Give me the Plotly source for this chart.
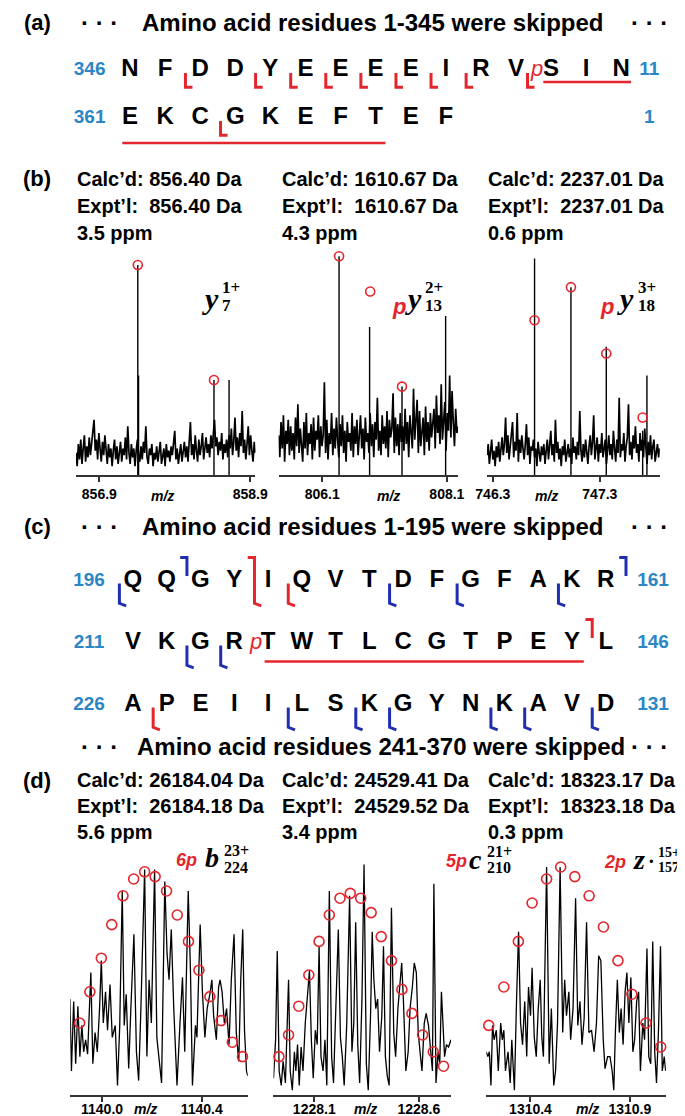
import numpy as np
import plotly.graph_objects as go

W, H = 685, 1116
SANS = "Liberation Sans, Arial, sans-serif"
SERIF = "Liberation Serif, Times New Roman, serif"
RED = "#e3262d"
BLUE_NUM = "#2b86c5"
BLUE_MARK = "#1f2fb0"

# ------------------------------------------------------------------ data
# (a) sequence
a_rows = ["NFDDYEEEEIRVSIN", "EKCGKEFTEF"]
a_left_nums = ["346", "361"]
a_right_nums = ["11", "1"]
a_cleave_low = [[0, 2], [0, 4], [0, 5], [0, 6], [0, 7], [0, 8], [0, 9], [0, 10], [1, 3]]
a_cleave_phospho = [[0, 12]]
a_underline = [[0, 12, 14], [1, 0, 7]]

# (c) sequence
c_rows = ["QQGYIQVTDFGFAKR", "VKGRTWTLCGTPEYL", "APEIILSKGYNKAVD"]
c_left_nums = ["196", "211", "226"]
c_right_nums = ["161", "146", "131"]
c_blue_low = [[0, 0], [0, 8], [0, 10], [0, 13], [1, 2], [1, 3],
              [2, 5], [2, 7], [2, 8], [2, 11], [2, 12], [2, 14]]
c_blue_up = [[0, 2], [0, 15]]
c_red_low = [[0, 5], [2, 1]]
c_red_up = [[1, 14]]
c_red_both = [[0, 4]]
c_phospho = [[1, 4]]
c_underline = [[1, 4, 13]]

# (b) spectra
b_calc = ["856.40", "1610.67", "2237.01"]
b_expt = ["856.40", "1610.67", "2237.01"]
b_ppm = ["3.5", "4.3", "0.6"]

b1_range = [856.59, 858.97]
b1_ticks = [856.9, 858.9]
b1_noise = [10, 4, 14, 7, 16, 5, 12, 18, 6, 13, 8, 17, 9, 15, 20, 25, 11, 16, 7, 19,
            12, 6, 15, 9, 18, 10, 5, 14, 8, 12, 4, 11, 16, 7, 13, 5, 10, 15, 6, 12,
            9, 17, 7, 22, 10, 5, 14, 8, 12, 4, 11, 16, 9, 6, 13, 7, 15, 10, 22, 8,
            5, 12, 9, 14, 4, 10, 7, 13, 6, 11, 15, 5, 9, 12, 4, 14, 8, 11, 6, 13,
            9, 16, 20, 7, 12, 5, 10, 14, 6, 11, 15, 8, 13, 6, 17, 24, 9, 14, 7, 18,
            11, 6, 16, 9, 13, 19, 7, 12, 17, 10, 14, 8, 18, 12, 20, 25, 13, 17, 9, 15,
            11, 19, 7, 14, 10, 16, 8, 18, 12, 21, 9, 15, 26, 11, 17, 8, 19, 13, 29, 10,
            16, 7, 14, 22, 9, 18, 11, 6, 15, 10]
b1_peak_mz = [857.41, 857.42, 858.42, 858.62]
b1_peak_int = [95, 45, 43, 43]
b1_circ_mz = [857.41, 858.42]
b1_circ_int = [95, 43]

b2_range = [805.40, 808.28]
b2_ticks = [806.1, 808.1]
b2_noise = [18, 8, 24, 12, 27, 6, 20, 14, 25, 9, 22, 11, 19, 7, 26, 13, 32, 10, 21, 15,
            6, 24, 12, 28, 9, 19, 14, 23, 7, 26, 11, 20, 16, 27, 8, 22, 13, 18, 42, 10,
            25, 7, 19, 14, 28, 9, 21, 12, 26, 16, 8, 23, 13, 27, 10, 20, 6, 24, 15, 19,
            11, 28, 8, 22, 14, 25, 9, 18, 27, 12, 21, 7, 26, 15, 19, 10, 28, 13, 23, 8,
            24, 16, 35, 11, 20, 9, 27, 14, 22, 12, 29, 8, 25, 17, 21, 37, 10, 26, 13, 23,
            9, 28, 15, 22, 11, 30, 14, 24, 8, 27, 18, 12, 39, 16, 25, 34, 10, 29, 13, 21,
            26, 9, 31, 15, 24, 11, 28, 17, 22, 30, 12, 36, 19, 27, 14, 41, 16, 25, 33, 11,
            28, 20, 45, 17, 38, 24, 13, 30, 19, 22]
b2_peak_mz = [806.37, 806.86, 807.38, 808.08]
b2_peak_int = [99, 67, 40, 72]
b2_circ_mz = [806.37, 806.87, 807.38]
b2_circ_int = [99, 83, 40]

b3_range = [746.246, 747.86]
b3_ticks = [746.3, 747.3]
b3_noise = [9, 14, 5, 12, 16, 7, 11, 4, 13, 8, 15, 6, 12, 17, 9, 14, 26, 10, 18, 7,
            13, 19, 24, 8, 15, 11, 28, 6, 16, 10, 18, 12, 7, 14, 23, 9, 17, 5, 13, 11,
            16, 8, 12, 4, 15, 10, 6, 13, 9, 14, 5, 11, 16, 7, 12, 20, 9, 14, 6, 25,
            10, 15, 7, 12, 4, 13, 9, 16, 6, 11, 14, 8, 12, 5, 17, 10, 13, 7, 15, 9,
            29, 11, 6, 14, 8, 16, 10, 5, 13, 18, 9, 15, 27, 7, 12, 17, 6, 14, 10, 19,
            8, 13, 16, 5, 11, 18, 9, 14, 7, 20, 12, 6, 16, 10, 35, 8, 14, 11, 19, 6,
            13, 17, 32, 9, 15, 7, 18, 12, 22, 10, 14, 6, 19, 11, 16, 8, 21, 12, 5, 15,
            9, 18, 7, 13, 16, 6, 11, 14, 8, 12]
b3_peak_mz = [746.69, 747.03, 747.36, 747.70, 747.74]
b3_peak_int = [98, 85, 58, 20, 45]
b3_circ_mz = [746.69, 747.03, 747.36, 747.70]
b3_circ_int = [70, 85, 55, 26]

# (d) spectra
d_calc = ["26184.04", "24529.41", "18323.17"]
d_expt = ["26184.18", "24529.52", "18323.18"]
d_ppm = ["5.6", "3.4", "0.3"]

d1_range = [1139.872, 1140.585]
d1_ticks = [1140.0, 1140.4]
d1_mz = [1139.871, 1139.877, 1139.886, 1139.894, 1139.903, 1139.911, 1139.919, 1139.926, 1139.934, 1139.942,
         1139.955, 1139.963, 1139.972, 1139.981, 1139.990, 1139.997, 1140.005, 1140.014, 1140.022, 1140.032,
         1140.041, 1140.053, 1140.062, 1140.071, 1140.081, 1140.089, 1140.097, 1140.107, 1140.116, 1140.128,
         1140.138, 1140.147, 1140.156, 1140.171, 1140.180, 1140.189, 1140.198, 1140.211, 1140.220, 1140.229,
         1140.239, 1140.252, 1140.261, 1140.269, 1140.278, 1140.288, 1140.301, 1140.313, 1140.323, 1140.332,
         1140.346, 1140.355, 1140.363, 1140.375, 1140.381, 1140.394, 1140.403, 1140.413, 1140.422, 1140.433,
         1140.441, 1140.448, 1140.459, 1140.468, 1140.474, 1140.482, 1140.491, 1140.500, 1140.510, 1140.519,
         1140.530, 1140.539, 1140.549, 1140.557, 1140.565, 1140.572, 1140.580, 1140.585]
d1_int = [40, 10, 39, 13, 37, 16, 29, 18, 23, 17,
          51, 13, 26, 18, 36, 56, 30, 43, 27, 46,
          24, 29, 4, 29, 85, 29, 42, 11, 37, 67,
          18, 6, 36, 94, 16, 48, 30, 94, 24, 14,
          5, 89, 59, 48, 69, 36, 4, 30, 49, 18,
          85, 52, 4, 29, 24, 71, 43, 24, 36, 42,
          48, 33, 23, 45, 48, 43, 30, 36, 21, 48,
          67, 26, 14, 48, 69, 27, 10, 8]
d1_circ_mz = [1139.910, 1139.951, 1139.997, 1140.039, 1140.084, 1140.127, 1140.171, 1140.213,
              1140.259, 1140.302, 1140.347, 1140.389, 1140.433, 1140.478, 1140.523, 1140.564]
d1_circ_int = [30, 43, 57, 71, 83, 90, 93, 91, 85, 75, 64, 52, 41, 31, 22, 16]

d2_range = [1227.905, 1228.754]
d2_ticks = [1228.1, 1228.6]
d2_mz = [1227.905, 1227.915, 1227.923, 1227.932, 1227.942, 1227.951, 1227.962, 1227.969, 1227.977, 1227.985,
         1227.995, 1228.005, 1228.012, 1228.020, 1228.028, 1228.037, 1228.046, 1228.057, 1228.069, 1228.077,
         1228.086, 1228.095, 1228.105, 1228.114, 1228.123, 1228.132, 1228.142, 1228.151, 1228.160, 1228.172,
         1228.183, 1228.192, 1228.203, 1228.215, 1228.225, 1228.234, 1228.243, 1228.255, 1228.269, 1228.280,
         1228.289, 1228.298, 1228.308, 1228.317, 1228.328, 1228.338, 1228.349, 1228.358, 1228.369, 1228.377,
         1228.385, 1228.394, 1228.403, 1228.412, 1228.423, 1228.431, 1228.440, 1228.449, 1228.458, 1228.469,
         1228.480, 1228.489, 1228.500, 1228.508, 1228.518, 1228.526, 1228.538, 1228.549, 1228.558, 1228.569,
         1228.578, 1228.588, 1228.597, 1228.608, 1228.615, 1228.626, 1228.635, 1228.646, 1228.657, 1228.665,
         1228.672, 1228.682, 1228.692, 1228.700, 1228.708, 1228.715, 1228.723, 1228.732, 1228.742, 1228.754]
d2_int = [7, 23, 60, 10, 4, 14, 5, 30, 48, 10,
          2, 18, 10, 21, 4, 20, 10, 30, 43, 52,
          23, 7, 27, 21, 62, 16, 10, 23, 4, 85,
          16, 5, 36, 69, 24, 16, 4, 29, 83, 18,
          30, 72, 21, 5, 40, 96, 13, 2, 33, 68,
          48, 36, 40, 18, 33, 62, 16, 8, 4, 78,
          26, 16, 36, 45, 55, 40, 10, 18, 36, 45,
          55, 51, 26, 16, 10, 30, 34, 29, 16, 10,
          88, 5, 18, 13, 43, 27, 16, 21, 20, 23]
d2_circ_mz = [1227.931, 1227.977, 1228.026, 1228.074, 1228.123, 1228.172, 1228.223, 1228.272, 1228.322,
              1228.372, 1228.420, 1228.469, 1228.519, 1228.567, 1228.618, 1228.669, 1228.718]
d2_circ_int = [16, 25, 37, 50, 64, 75, 82, 84, 82, 76, 66, 56, 44, 34, 25, 18, 12]

d3_range = [1310.178, 1311.081]
d3_ticks = [1310.4, 1310.9]
d3_mz = [1310.177, 1310.185, 1310.193, 1310.201, 1310.209, 1310.217, 1310.228, 1310.238, 1310.250, 1310.258,
         1310.266, 1310.274, 1310.287, 1310.298, 1310.306, 1310.319, 1310.330, 1310.340, 1310.350, 1310.360,
         1310.371, 1310.381, 1310.390, 1310.400, 1310.408, 1310.419, 1310.429, 1310.439, 1310.449, 1310.457,
         1310.465, 1310.481, 1310.494, 1310.505, 1310.517, 1310.526, 1310.536, 1310.549, 1310.562, 1310.572,
         1310.581, 1310.593, 1310.602, 1310.614, 1310.627, 1310.638, 1310.649, 1310.659, 1310.670, 1310.682,
         1310.694, 1310.707, 1310.720, 1310.732, 1310.743, 1310.754, 1310.766, 1310.775, 1310.788, 1310.800,
         1310.811, 1310.819, 1310.827, 1310.837, 1310.847, 1310.856, 1310.866, 1310.876, 1310.885, 1310.895,
         1310.905, 1310.915, 1310.924, 1310.934, 1310.944, 1310.953, 1310.965, 1310.974, 1310.986, 1310.995,
         1311.005, 1311.015, 1311.025, 1311.034, 1311.044, 1311.054, 1311.063, 1311.073, 1311.080]
d3_int = [18, 16, 18, 4, 29, 23, 27, 10, 30, 23,
          27, 10, 18, 5, 23, 2, 40, 68, 30, 21,
          39, 16, 45, 33, 53, 24, 16, 36, 48, 24,
          16, 95, 13, 36, 4, 10, 30, 95, 26, 48,
          33, 43, 23, 36, 82, 29, 39, 21, 32, 72,
          26, 27, 18, 30, 58, 56, 23, 11, 16, 16,
          10, 2, 26, 48, 26, 36, 21, 43, 51, 30,
          49, 18, 23, 39, 43, 10, 30, 23, 61, 16,
          13, 64, 18, 5, 27, 62, 10, 16, 10]
d3_circ_mz = [1310.190, 1310.266, 1310.339, 1310.408, 1310.481, 1310.552, 1310.623,
              1310.695, 1310.767, 1310.840, 1310.910, 1310.981, 1311.055]
d3_circ_int = [29, 45, 64, 80, 90, 95, 91, 83, 70, 56, 42, 30, 20]

for _a, _b in [(d1_mz, d1_int), (d2_mz, d2_int), (d3_mz, d3_int)]:
    assert len(_a) == len(_b), (len(_a), len(_b))

# ------------------------------------------------------------------ helpers
def fx(px):
    return px / W


def fy(py):
    return 1 - py / H


fig = go.Figure()
layout = dict(width=W, height=H, margin=dict(l=0, r=0, t=0, b=0),
              paper_bgcolor="white", plot_bgcolor="white", showlegend=False)
annotations = []


def ann(x, y, text, size, color="black", family=SANS, xanchor="center", yanchor="middle"):
    annotations.append(dict(x=fx(x), y=fy(y), xref="paper", yref="paper", text=text,
                            showarrow=False, xanchor=xanchor, yanchor=yanchor,
                            font=dict(size=size, color=color, family=family)))


def sticks(mz, inten):
    xs, ys = [], []
    for m, v in zip(mz, inten):
        xs += [m, m, None]
        ys += [0, v, None]
    return xs, ys


def spectrum_axes(n, xdom, ydom, xr, ticks, standoff):
    layout[f"xaxis{n}"] = dict(domain=[fx(xdom[0]), fx(xdom[1])], range=xr, anchor=f"y{n}",
                               showline=True, linecolor="#333", linewidth=2, ticks="outside",
                               ticklen=5, tickwidth=1.5, tickcolor="#333", tickvals=ticks,
                               ticktext=[f"<b>{t:.1f}</b>" for t in ticks],
                               tickfont=dict(size=14, color="black", family=SANS),
                               ticklabelstandoff=standoff,
                               showgrid=False, zeroline=False, fixedrange=True)
    layout[f"yaxis{n}"] = dict(domain=[fy(ydom[1]), fy(ydom[0])], range=[0, 100], anchor=f"x{n}",
                               visible=False, fixedrange=True)


def add_circles(n, mz, inten, size=9):
    fig.add_trace(go.Scatter(x=mz, y=inten, mode="markers", xaxis=f"x{n}", yaxis=f"y{n}",
                             cliponaxis=False,
                             marker=dict(symbol="circle-open", size=size, color=RED,
                                         line=dict(width=1.6, color=RED))))


# ------------------------------------------------------------------ (b) spectra
b_specs = [
    (1, [58, 244], b1_range, b1_ticks, b1_noise, b1_peak_mz, b1_peak_int, b1_circ_mz, b1_circ_int),
    (2, [268, 454], b2_range, b2_ticks, b2_noise, b2_peak_mz, b2_peak_int, b2_circ_mz, b2_circ_int),
    (3, [484, 663], b3_range, b3_ticks, b3_noise, b3_peak_mz, b3_peak_int, b3_circ_mz, b3_circ_int),
]
for n, xdom, xr, ticks, noise, pmz, pint, cmz, cint in b_specs:
    spectrum_axes(n, xdom, [246, 467], xr, ticks, 0)
    grid = np.linspace(xr[0], xr[1], len(noise))
    fig.add_trace(go.Scatter(x=grid, y=noise, mode="lines", xaxis=f"x{n}", yaxis=f"y{n}",
                             line=dict(color="black", width=1.7)))
    sx, sy = sticks(pmz, pint)
    fig.add_trace(go.Scatter(x=sx, y=sy, mode="lines", xaxis=f"x{n}", yaxis=f"y{n}",
                             line=dict(color="black", width=1.4)))
    add_circles(n, cmz, cint)

# ------------------------------------------------------------------ (d) spectra
d_specs = [
    (4, [52, 236], d1_range, d1_ticks, d1_mz, d1_int, d1_circ_mz, d1_circ_int),
    (5, [262.7, 446.7], d2_range, d2_ticks, d2_mz, d2_int, d2_circ_mz, d2_circ_int),
    (6, [483.3, 669.3], d3_range, d3_ticks, d3_mz, d3_int, d3_circ_mz, d3_circ_int),
]
for n, xdom, xr, ticks, mz, it, cmz, cint in d_specs:
    spectrum_axes(n, xdom, [847, 1087], xr, ticks, -5)
    fig.add_trace(go.Scatter(x=mz, y=it, mode="lines", xaxis=f"x{n}", yaxis=f"y{n}",
                             line=dict(color="black", width=1.3)))
    add_circles(n, cmz, cint, size=10)

# ------------------------------------------------------------------ sequences
def seq_panel(n, rows, left_nums, right_nums, x0px, dxpx, row_px, ytop_px, ybot_px,
              lnum_col, rnum_col):
    y0 = row_px[0]
    dy = (row_px[-1] - row_px[0]) / max(1, len(row_px) - 1)
    layout[f"xaxis{n}"] = dict(domain=[0, 1], range=[(0 - x0px) / dxpx, (W - x0px) / dxpx],
                               anchor=f"y{n}", visible=False, fixedrange=True)
    layout[f"yaxis{n}"] = dict(domain=[fy(ybot_px), fy(ytop_px)],
                               range=[(ybot_px - y0) / dy, (ytop_px - y0) / dy],
                               anchor=f"x{n}", visible=False, fixedrange=True)
    xs, ys, ts = [], [], []
    for r, s in enumerate(rows):
        for c, ch in enumerate(s):
            xs.append(c); ys.append(r); ts.append(ch)
    fig.add_trace(go.Scatter(x=xs, y=ys, text=ts, mode="text", xaxis=f"x{n}", yaxis=f"y{n}",
                             cliponaxis=False,
                             textfont=dict(size=24, color="black", family=SANS, weight="bold")))
    nx, ny, nt = [], [], []
    for r, (ln, rn) in enumerate(zip(left_nums, right_nums)):
        nx += [lnum_col, rnum_col]; ny += [r, r]; nt += [ln, rn]
    fig.add_trace(go.Scatter(x=nx, y=ny, text=nt, mode="text", xaxis=f"x{n}", yaxis=f"y{n}",
                             cliponaxis=False,
                             textfont=dict(size=19, color=BLUE_NUM, family=SANS, weight="bold")))


def mark_lines(n, items, kind, color, geom, offset=0.4, width=3):
    lo1, lo2, up1, up2, foot, slant = geom
    xs, ys = [], []
    for r, k in items:
        x = k - offset
        if kind == "low":
            xs += [x, x, x + foot, None]; ys += [r + lo1, r + lo2, r + lo2 + slant, None]
        elif kind == "up":
            xs += [x - foot, x, x, None]; ys += [r - up2, r - up2, r - up1, None]
        else:
            xs += [x - foot, x, x, x + foot, None]
            ys += [r - up2, r - up2, r + lo2, r + lo2 + slant, None]
    fig.add_trace(go.Scatter(x=xs, y=ys, mode="lines", xaxis=f"x{n}", yaxis=f"y{n}",
                             cliponaxis=False, line=dict(color=color, width=width)))


def underline(n, items, yoff, start_off, end_off):
    xs, ys = [], []
    for r, c0, c1 in items:
        xs += [c0 - start_off, c1 + end_off, None]; ys += [r + yoff[r], r + yoff[r], None]
    fig.add_trace(go.Scatter(x=xs, y=ys, mode="lines", xaxis=f"x{n}", yaxis=f"y{n}",
                             cliponaxis=False, line=dict(color=RED, width=2.5)))


def phospho(n, items, offset):
    fig.add_trace(go.Scatter(x=[k - offset for r, k in items], y=[r for r, k in items],
                             text=["p"] * len(items), mode="text", xaxis=f"x{n}", yaxis=f"y{n}",
                             cliponaxis=False,
                             textfont=dict(size=22, color=RED, family=SANS, style="italic")))


# panel (a)
seq_panel(7, a_rows, a_left_nums, a_right_nums, 114, 36.36, [62, 110], 30, 150, -1.15, 14.8)
geom_a = (0.06, 0.36, 0.1, 0.45, 0.2, 0.0)
mark_lines(7, a_cleave_low, "low", RED, geom_a, offset=0.42)
mark_lines(7, a_cleave_phospho, "low", RED, geom_a, offset=0.67)
phospho(7, a_cleave_phospho, 0.4)
underline(7, a_underline, {0: 0.25, 1: 0.52}, 0.22, 0.28)

# panel (c)
seq_panel(8, c_rows, c_left_nums, c_right_nums, 117, 35.0, [573, 635, 697], 535, 740, -1.3, 15.4)
geom_c = (0.04, 0.36, 0.08, 0.38, 0.2, 0.04)
mark_lines(8, c_blue_low, "low", BLUE_MARK, geom_c)
mark_lines(8, c_blue_up, "up", BLUE_MARK, geom_c)
mark_lines(8, c_red_low, "low", RED, geom_c)
mark_lines(8, c_red_up, "up", RED, geom_c)
mark_lines(8, c_red_both, "both", RED, geom_c)
phospho(8, c_phospho, 0.35)
underline(8, c_underline, {1: 0.3}, 0.1, 0.35)

# ------------------------------------------------------------------ text
DOTS = "<b>\u00b7 \u00b7 \u00b7</b>"
for y, txt, cx in [(15, "Amino acid residues 1-345 were skipped", 366),
                   (518, "Amino acid residues 1-195 were skipped", 366),
                   (738, "Amino acid residues 241-370 were skipped", 374)]:
    ann(82, y, DOTS, 24)
    ann(cx, y, f"<b>{txt}</b>", 24)
    ann(652, y, DOTS, 24)

for lab, y in [("(a)", 15), ("(b)", 171), ("(c)", 518), ("(d)", 772)]:
    ann(18, y, f"<b>{lab}</b>", 22)

col_x = [57, 269, 483]
for i in range(3):
    ann(col_x[i], 171, f"<b>Calc\u2019d: {b_calc[i]} Da</b>", 20, xanchor="left")
    ann(col_x[i], 198, f"<b>Expt\u2019l:\u00a0 {b_expt[i]} Da</b>", 20, xanchor="left")
    ann(col_x[i], 225, f"<b>{b_ppm[i]} ppm</b>", 20, xanchor="left")
    ann(col_x[i], 772, f"<b>Calc\u2019d: {d_calc[i]} Da</b>", 20, xanchor="left")
    ann(col_x[i], 798, f"<b>Expt\u2019l:\u00a0 {d_expt[i]} Da</b>", 20, xanchor="left")
    ann(col_x[i], 824, f"<b>{d_ppm[i]} ppm</b>", 20, xanchor="left")

for x, y in [(148, 488), (382, 488), (546, 488), (130, 1101), (358, 1101), (588, 1101)]:
    ann(x, y, "<b><i>m/z</i></b>", 14)

# fragment labels (b)
ann(197, 290, "<b><i>y</i></b>", 30, family=SERIF)
ann(207, 280, "<b>1+</b>", 17, family=SERIF, xanchor="left")
ann(207, 297, "<b>7</b>", 17, family=SERIF, xanchor="left")
ann(393, 298, "<b><i>p</i></b>", 22, color=RED)
ann(408, 290, "<b><i>y</i></b>", 30, family=SERIF)
ann(418, 280, "<b>2+</b>", 17, family=SERIF, xanchor="left")
ann(418, 297, "<b>13</b>", 17, family=SERIF, xanchor="left")
ann(608, 298, "<b><i>p</i></b>", 22, color=RED)
ann(627, 290, "<b><i>y</i></b>", 30, family=SERIF)
ann(638, 280, "<b>3+</b>", 17, family=SERIF, xanchor="left")
ann(638, 297, "<b>18</b>", 17, family=SERIF, xanchor="left")

# fragment labels (d)
ann(173, 852, "<b><i>6p</i></b>", 18, color=RED)
ann(199, 849, "<b><i>b</i></b>", 28, family=SERIF)
ann(209, 842, "<b>23+</b>", 16, family=SERIF, xanchor="left")
ann(209, 859, "<b>224</b>", 16, family=SERIF, xanchor="left")
ann(452, 853, "<b><i>5p</i></b>", 18, color=RED)
ann(472, 851, "<b><i>c</i></b>", 28, family=SERIF)
ann(482, 843, "<b>21+</b>", 16, family=SERIF, xanchor="left")
ann(482, 860, "<b>210</b>", 16, family=SERIF, xanchor="left")
ann(617, 854, "<b><i>2p</i></b>", 18, color=RED)
ann(641, 851, "<b><i>z</i></b>", 28, family=SERIF)
ann(654, 853, "<b>\u00b7</b>", 20, family=SERIF)
ann(659, 844, "<b>15+</b>", 14, family=SERIF, xanchor="left")
ann(659, 860, "<b>157</b>", 14, family=SERIF, xanchor="left")

layout["annotations"] = annotations
fig.update_layout(**layout)
fig.write_html("out.html")
